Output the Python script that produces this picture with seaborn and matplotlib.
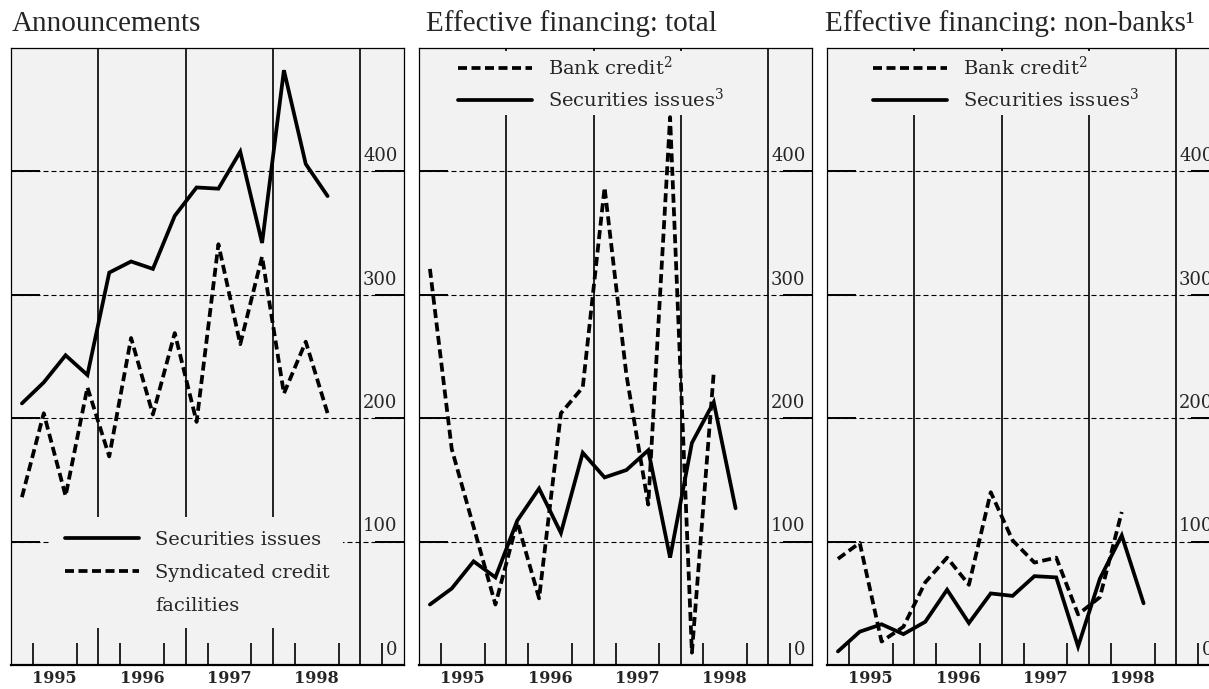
import numpy as np
import pandas as pd
import matplotlib.pyplot as plt
import seaborn as sns
from matplotlib.lines import Line2D

sns.set_theme(style="white")
plt.rcParams['font.family'] = ['DejaVu Serif']
plt.rcParams['mathtext.fontset'] = 'dejavuserif'

# quarterly data, 1995 Q1 .. 1998 Q3 (billions of US dollars)
quarters = ['1995Q1', '1995Q2', '1995Q3', '1995Q4', '1996Q1', '1996Q2', '1996Q3', '1996Q4',
            '1997Q1', '1997Q2', '1997Q3', '1997Q4', '1998Q1', '1998Q2', '1998Q3']
years = ['1995', '1996', '1997', '1998']
y_labels = [0, 100, 200, 300, 400]

ann_securities = [212, 229, 251, 235, 318, 327, 321, 364, 387, 386, 416, 342, 482, 406, 380]
ann_syndicated = [136, 204, 137, 225, 169, 265, 203, 269, 197, 341, 260, 331, 220, 262, 204]

tot_bank = [321, 175, 112, 49, 116, 54, 204, 225, 387, 235, 130, 444, 10, 237]
tot_securities = [49, 62, 84, 71, 117, 143, 107, 172, 152, 158, 174, 87, 180, 213, 127]

nb_bank = [86, 99, 19, 31, 67, 87, 65, 140, 101, 83, 87, 41, 55, 124]
nb_securities = [11, 27, 33, 25, 35, 61, 34, 58, 56, 72, 71, 15, 70, 105, 50]

BG = '#f2f2f2'
LW = 2.7
DASH = (2.4, 1.2)

W, H = 1209, 689
fig = plt.figure(figsize=(W / 100, H / 100), dpi=100)

panel_left = [11, 419, 827]
axes = [fig.add_axes([l / W, 24 / H, 393 / W, 617 / H]) for l in panel_left]


def base_panel(ax):
    ax.set_facecolor(BG)
    ax.set_xlim(0, 18)
    ax.set_ylim(0, 500)
    for v in y_labels[1:]:
        ax.axhline(v, color='black', lw=0.8, dashes=(4.5, 2.7), zorder=1)
    for v in [4, 8, 12, 16]:
        ax.axvline(v, color='black', lw=1.2, zorder=1)
    ax.set_yticks(y_labels[1:])
    ax.tick_params(axis='y', which='major', direction='in', length=21, width=1.4,
                   left=True, right=True, labelleft=False, labelright=False, color='black')
    ax.set_xticks([2, 6, 10, 14])
    ax.set_xticklabels(years, fontsize=11.5, fontweight='bold')
    ax.set_xticks([1, 2, 3, 5, 6, 7, 9, 10, 11, 13, 14, 15, 17], minor=True)
    ax.tick_params(axis='x', which='major', length=0, pad=3.5, bottom=True)
    ax.tick_params(axis='x', which='minor', direction='in', length=16, width=1.2,
                   bottom=True, color='black', labelbottom=False)
    for s in ax.spines.values():
        s.set_color('black')
        s.set_linewidth(0.9)
    ax.spines['bottom'].set_linewidth(1.6)
    for v in y_labels:
        ax.text(17.7, v + 5, str(v), ha='right', va='bottom', fontsize=13, zorder=2)


def series(ax, values, dashed):
    x = np.arange(len(values)) + 0.5
    df = pd.DataFrame({'x': x, 'y': values})
    sns.lineplot(data=df, x='x', y='y', ax=ax, color='black', lw=LW, zorder=3,
                 solid_joinstyle='miter')
    line = ax.lines[-1]
    if dashed:
        line.set_dashes(DASH)
    # no axis titles in the original
    ax.xaxis.label.set_visible(False)
    ax.yaxis.label.set_visible(False)
    return line


leg_kw = dict(frameon=True, facecolor=BG, edgecolor='none', framealpha=1, fancybox=False,
              fontsize=14, handlelength=3.8, handletextpad=0.85,
              borderaxespad=0, loc='upper left')

# panel 1
ax = axes[0]
base_panel(ax)
l_sec = series(ax, ann_securities, False)
l_syn = series(ax, ann_syndicated, True)
blank = Line2D([], [], color='none')
ax.legend([l_sec, l_syn, blank], ['Securities issues', 'Syndicated credit', 'facilities'],
          bbox_to_anchor=(0.102, 0.240), labelspacing=0.78, borderpad=0.7, **leg_kw)

# panel 2
ax = axes[1]
base_panel(ax)
l_bank = series(ax, tot_bank, True)
l_sec = series(ax, tot_securities, False)
ax.legend([l_bank, l_sec], ['Bank credit$^{2}$', 'Securities issues$^{3}$'],
          bbox_to_anchor=(0.087, 0.995), labelspacing=0.42, borderpad=0.25, **leg_kw)

# panel 3
ax = axes[2]
base_panel(ax)
l_bank = series(ax, nb_bank, True)
l_sec = series(ax, nb_securities, False)
ax.legend([l_bank, l_sec], ['Bank credit$^{2}$', 'Securities issues$^{3}$'],
          bbox_to_anchor=(0.1045, 0.995), labelspacing=0.42, borderpad=0.25, **leg_kw)

titles = ['Announcements', 'Effective financing: total', 'Effective financing: non-banks¹']
title_x = [12, 426, 825]
for t, x in zip(titles, title_x):
    fig.text(x / W, 1 - 31 / H, t, ha='left', va='baseline', fontsize=21,
             family=['Liberation Serif', 'DejaVu Serif'])

fig.savefig('out.png', dpi=100)
